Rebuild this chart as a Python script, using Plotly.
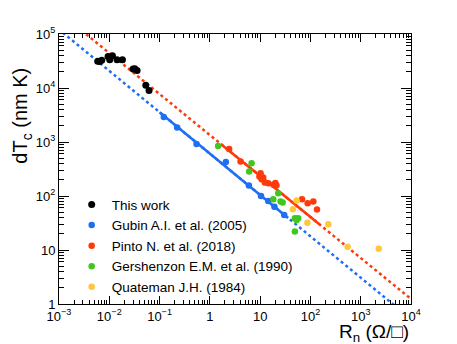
import numpy as np
import plotly.graph_objects as go

# data (R_n in Ohm/sq, dTc in nm K)
this_work_r = [0.00589, 0.00646, 0.00708, 0.00944, 0.0102, 0.01156, 0.01427, 0.01827,
               0.0297, 0.0322, 0.0357, 0.0532, 0.0618]
this_work_t = [31300, 31000, 32700, 38400, 33400, 39600, 33400, 33400,
               22400, 22700, 21100, 11300, 9000]

gubin_r = [0.1213, 0.2234, 0.543, 2.08, 5.97, 10.4, 14.5, 19.2, 30.1]
gubin_t = [2890, 1855, 914, 424, 156, 100, 81, 62.9, 44.7]

pinto_r = [2.42, 4.08, 10.2, 9.67, 10.7, 11.5, 12.4, 14.5, 18.4, 21.1, 20.1,
           68, 88, 114, 135]
pinto_t = [738, 435, 265, 229, 205, 220, 177, 173, 161, 157, 175,
           87.3, 73.6, 78.8, 56]

gersh_r = [1.46, 6.76, 6.05, 22.9, 18.2, 25.5, 28, 49.1, 53.1, 57.1, 49.1]
gersh_t = [839, 406, 284, 113, 87.3, 78.8, 75.5, 38.8, 36.1, 38.8, 21.9]

quat_r = [44.9, 53.1, 87.1, 226, 550, 2280]
quat_t = [57, 82.2, 31.8, 30.1, 11.5, 10.6]

# power-law fits dTc = A * Rn^-k
gubin_fit = dict(A=610, k=0.766, solid=(0.1, 36))
pinto_fit = dict(A=1346, k=0.759, solid=(1.65, 155))

x_ticks = [1e-3, 1e-2, 1e-1, 1, 10, 1e2, 1e3, 1e4]
x_labels = ["10<sup>−3</sup>", "10<sup>−2</sup>", "10<sup>−1</sup>", "1", "10",
            "10<sup>2</sup>", "10<sup>3</sup>", "10<sup>4</sup>"]
y_ticks = [1, 10, 1e2, 1e3, 1e4, 1e5]
y_labels = ["1", "10", "10<sup>2</sup>", "10<sup>3</sup>", "10<sup>4</sup>", "10<sup>5</sup>"]

BLUE = "#1f6ff5"
RED = "#ff3a0a"
GREEN = "#3ec81e"
YELLOW = "#ffc83c"

fig = go.Figure()


def add_fit(fit, color):
    # dotted over the whole range, solid where the fit was made
    xs = np.logspace(-3.2, 4.2, 200)
    fig.add_trace(go.Scatter(x=xs, y=fit["A"] * xs ** -fit["k"], mode="lines",
                             line=dict(color=color, width=2.5, dash="dot"),
                             showlegend=False, hoverinfo="skip"))
    lo, hi = fit["solid"]
    xs = np.logspace(np.log10(lo), np.log10(hi), 50)
    fig.add_trace(go.Scatter(x=xs, y=fit["A"] * xs ** -fit["k"], mode="lines",
                             line=dict(color=color, width=2.5),
                             showlegend=False, hoverinfo="skip"))


add_fit(gubin_fit, BLUE)
add_fit(pinto_fit, RED)

series = [
    ("This work", this_work_r, this_work_t, "black", 7),
    ("Gubin A.I. et al. (2005)", gubin_r, gubin_t, BLUE, 6.5),
    ("Pinto N. et al. (2018)", pinto_r, pinto_t, RED, 6.5),
    ("Gershenzon E.M. et al. (1990)", gersh_r, gersh_t, GREEN, 6.5),
    ("Quateman J.H. (1984)", quat_r, quat_t, YELLOW, 6.5),
]
for name, xs, ys, col, sz in series:
    fig.add_trace(go.Scatter(x=xs, y=ys, mode="markers", name=name,
                             marker=dict(color=col, size=sz)))

axis_common = dict(
    type="log", showline=True, linecolor="black", linewidth=1, mirror="allticks",
    ticks="inside", tickcolor="black", showgrid=False, zeroline=False,
    tickfont=dict(family="Liberation Sans", size=13, color="black"),
)
fig.update_xaxes(range=[-3, 4], tickvals=x_ticks, ticktext=x_labels, ticklen=8,
                 minor=dict(ticks="inside", ticklen=4, dtick="D1", tickcolor="black"),
                 **axis_common)
fig.update_yaxes(range=[0, 5], tickvals=y_ticks, ticktext=y_labels, ticklen=10,
                 minor=dict(ticks="inside", ticklen=5, dtick="D1", tickcolor="black"),
                 **axis_common)

fig.add_annotation(text="dT<sub>c</sub> (nm K)", xref="paper", yref="paper",
                   x=-0.105, y=0.883, xanchor="center", yanchor="top", textangle=-90,
                   showarrow=False, font=dict(family="Liberation Sans", size=20, color="black"))
fig.add_annotation(text="R<sub>n</sub> (Ω/□)", xref="paper", yref="paper",
                   x=1.0, y=-0.054, xanchor="right", yanchor="top",
                   showarrow=False, font=dict(family="Liberation Sans", size=19, color="black"))

fig.update_layout(
    width=457, height=344,
    margin=dict(l=59, r=46, t=34, b=40),
    paper_bgcolor="white", plot_bgcolor="white",
    font=dict(family="Liberation Sans", color="black"),
    legend=dict(x=0.036, y=0.425, xanchor="left", yanchor="top",
                bgcolor="rgba(0,0,0,0)", font=dict(size=13.5), tracegroupgap=0,
                itemwidth=30),
)

# drop the default page margin so the figure sits at the window's corner
fig.write_html("out.html", config={"displayModeBar": False},
               post_script="document.body.style.margin='0';")
